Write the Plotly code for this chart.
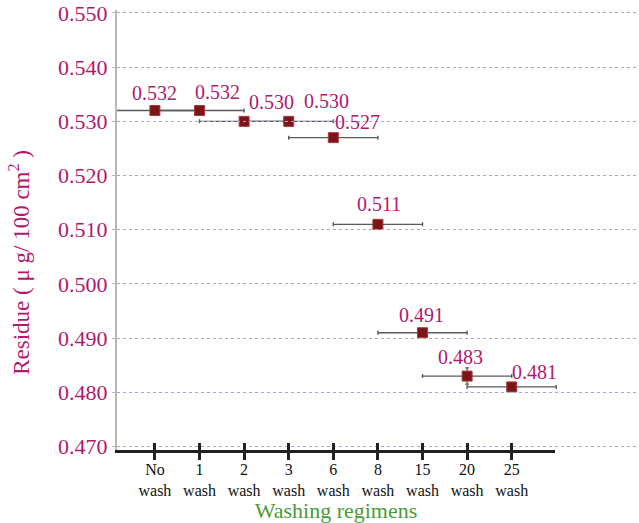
import plotly.graph_objects as go

# Washing regimens and measured residue
regimens = ["No<br>wash", "1<br>wash", "2<br>wash", "3<br>wash", "6<br>wash",
            "8<br>wash", "15<br>wash", "20<br>wash", "25<br>wash"]
residue = [0.532, 0.532, 0.530, 0.530, 0.527, 0.511, 0.491, 0.483, 0.481]
x_error = [1, 1, 1, 1, 1, 1, 1, 1, 1]
y_error = [0, 0, 0, 0, 0, 0, 0, 0.0015, 0]
y_ticks = [0.470, 0.480, 0.490, 0.500, 0.510, 0.520, 0.530, 0.540, 0.550]

# label nudges (px) so the value tags do not collide
label_dx = [0, 18, 27, 38, 24, 1, -1, -7, 23]
label_dy = [18, 19, 19, 20, 16, 20, 18, 19, 15]

CRIMSON = "#b3176c"
GREEN = "#4b9a3a"
SERIF = "Liberation Serif, Times New Roman, serif"

W, H = 639, 523
ML, MR, MT, MB = 117, 0, 10, 71
plot_w = W - ML - MR
plot_h = H - MT - MB
step = 44.6                       # px per regimen
x_lo = -0.85
x_hi_full = x_lo + plot_w / step
x_hi_axis = 8.97
axis_frac = (x_hi_axis - x_lo) * step / plot_w

pos = list(range(len(regimens)))

fig = go.Figure()

fig.add_trace(go.Scatter(
    x=pos, y=residue, mode="markers",
    marker=dict(symbol="square", size=10, color="#7d1518",
                line=dict(color="#a63a3a", width=1)),
    error_x=dict(type="data", array=x_error, color="#5a5a5a",
                 thickness=1.4, width=2),
    error_y=dict(type="data", array=y_error, color="#5a5a5a",
                 thickness=1.2, width=2),
    showlegend=False, hoverinfo="skip",
))

# carriers for the shortened regimen axis (labels + crossing ticks)
for ax in ("x2", "x3"):
    fig.add_trace(go.Scatter(x=pos, y=residue, xaxis=ax, mode="none",
                             showlegend=False, hoverinfo="skip"))

for i, v in enumerate(residue):
    fig.add_annotation(
        x=pos[i], y=v, text=f"{v:.3f}", showarrow=False,
        xshift=label_dx[i], yshift=label_dy[i], yanchor="middle",
        font=dict(family=SERIF, size=20, color=CRIMSON),
    )

# y-axis title, placed a little below the axis middle
fig.add_annotation(
    xref="paper", yref="paper",
    x=(20 - ML) / plot_w, y=(H - MB - 264) / plot_h,
    text="Residue ( \u03bc g/ 100 cm<sup>2</sup> )", textangle=-90,
    showarrow=False, xanchor="center", yanchor="middle",
    font=dict(family=SERIF, size=23, color=CRIMSON),
)

fig.update_layout(
    width=W, height=H,
    margin=dict(l=ML, r=MR, t=MT, b=MB),
    paper_bgcolor="white", plot_bgcolor="rgba(0,0,0,0)",
    xaxis=dict(
        domain=[0, 1], range=[x_lo, x_hi_full],
        showgrid=False, showticklabels=False, showline=False,
        zeroline=False, ticks="",
    ),
    xaxis2=dict(
        domain=[0, axis_frac], range=[x_lo, x_hi_axis], anchor="y",
        tickvals=pos, ticktext=regimens, ticklabelstandoff=-4,
        showgrid=False, showline=True, linecolor="#222222", linewidth=2.5,
        ticks="outside", ticklen=7, tickwidth=2.5, tickcolor="#222222",
        tickfont=dict(family=SERIF, size=16, color="#111111"),
        title=dict(text="Washing regimens", standoff=9,
                   font=dict(family=SERIF, size=22, color=GREEN)),
        zeroline=False,
    ),
    xaxis3=dict(
        domain=[0, axis_frac], range=[x_lo, x_hi_axis], anchor="y",
        tickvals=pos, showgrid=False, showline=False, showticklabels=False,
        ticks="inside", ticklen=7, tickwidth=2.5, tickcolor="#222222",
        zeroline=False,
    ),
    yaxis=dict(
        range=[0.46936, 0.55055], tickvals=y_ticks, tickformat=".3f",
        showgrid=True, gridcolor="#9fa9e0", griddash="dot", gridwidth=1.2,
        showline=True, linecolor="#b8b8b8", linewidth=2,
        ticks="outside", ticklen=3, tickcolor="#b8b8b8",
        tickfont=dict(family=SERIF, size=22, color=CRIMSON),
        zeroline=False,
    ),
)

fig.write_html("out.html")
